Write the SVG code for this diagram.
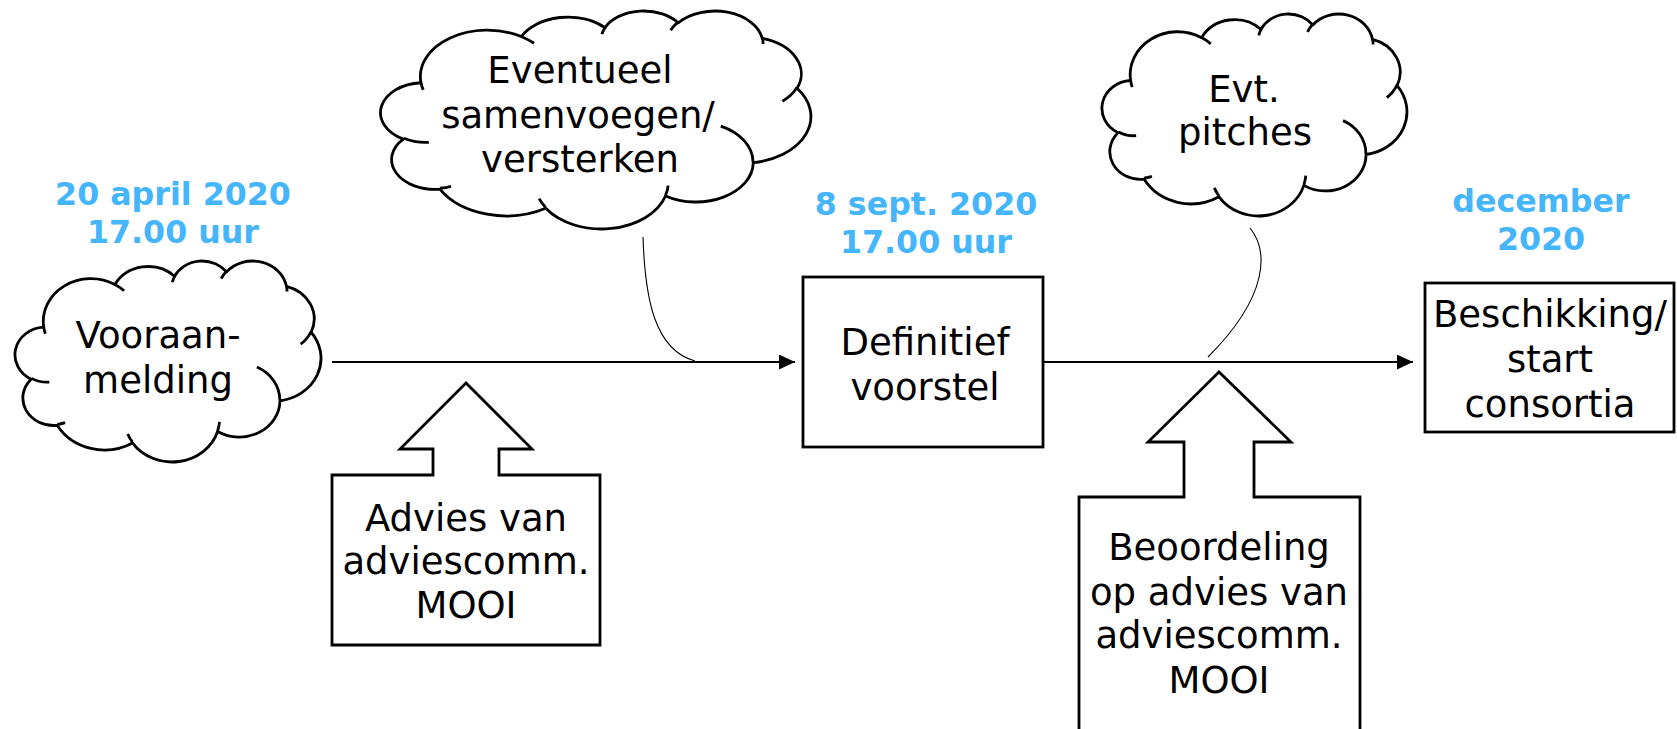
<svg xmlns="http://www.w3.org/2000/svg" xmlns:xlink="http://www.w3.org/1999/xlink" width="1677" height="729" viewBox="0 0 1677 729">
<style>
.cloud{fill:#fff;stroke:#000;stroke-width:2.8;vector-effect:non-scaling-stroke;stroke-linejoin:round}
.cloudin{fill:none;stroke:#000;stroke-width:2.8;vector-effect:non-scaling-stroke}
.box{fill:#fff;stroke:#000;stroke-width:2.8}
.lbl{font-family:"DejaVu Sans","Verdana",sans-serif;font-size:37px;fill:#000;text-anchor:middle}
.date{font-family:"DejaVu Sans","Verdana",sans-serif;font-size:31.7px;font-weight:bold;fill:#45b5fe;text-anchor:middle}
.flow{fill:none;stroke:#000;stroke-width:1.8}
.thin{fill:none;stroke:#000;stroke-width:1.1}
</style>
<defs>
<path id="cloudOut" class="cloud" d="M90.28,332.64 A156.32,212.73 0 0 1 324.18,120.42 A123.45,168.22 0 0 1 519.83,79.49 A101.04,137.62 0 0 1 690.62,57.47 A112.43,152.66 0 0 1 887.04,129.12 A123.45,168.36 0 0 1 968.07,357.92 A156.83,213.43 0 0 1 865.88,699.16 A133.91,182.11 0 0 1 661.04,852.17 A156.30,213.31 0 0 1 381.53,908.91 A178.70,244.05 0 0 1 134.41,821.04 A100.93,136.99 0 0 1 48.97,591.36 A100.58,137.62 0 0 1 90.28,332.64 Z"/>
<path id="cloudIn" class="cloudin" d="M108.63,605.95 A100.58,137.62 0 0 1 50.01,587.51 M160.37,807.85 A100.93,136.99 0 0 1 134.71,816.68 M381.44,904.86 A156.30,213.31 0 0 1 365.97,864.56 M667.29,804.42 A156.30,213.31 0 0 1 661.12,848.63 M790.02,531.34 A133.91,182.11 0 0 1 865.29,696.52 M967.55,355.42 A123.45,168.36 0 0 1 934.02,417.36 M887.13,125.60 A112.43,152.66 0 0 1 888.90,154.85 M673.10,91.48 A112.43,152.66 0 0 1 690.27,54.16 M512.52,109.26 A101.04,137.62 0 0 1 520.83,77.10 M324.07,120.19 A156.32,212.73 0 0 1 354.22,151.46 M95.53,365.49 A156.32,212.73 0 0 1 90.28,332.63"/>
<marker id="arrow" markerUnits="userSpaceOnUse" markerWidth="17" markerHeight="16" refX="16" refY="7.5" orient="auto">
<path d="M0,0 L16,7.5 L0,15 Z" fill="#000"/>
</marker>
</defs>

<g id="connectors">
<path class="flow" d="M332,362 H795" marker-end="url(#arrow)"/>
<path class="flow" d="M1043,362 H1413" marker-end="url(#arrow)"/>
<path class="thin" d="M643,237 C645,300 655,350 695,361"/>
<path class="thin" d="M1250,228 C1268,250 1270,295 1208,357"/>
</g>

<g id="date-april">
<text class="date"><tspan x="173" y="205">20 april 2020</tspan><tspan x="173" y="243">17.00 uur</tspan></text>
</g>
<g id="date-sept">
<text class="date"><tspan x="926" y="215">8 sept. 2020</tspan><tspan x="926" y="253">17.00 uur</tspan></text>
</g>
<g id="date-dec">
<text class="date"><tspan x="1541" y="212">december</tspan><tspan x="1541" y="250">2020</tspan></text>
</g>

<g id="node-vooraanmelding">
<g transform="translate(16.24,260.34) scale(0.3046,0.2009)">
<use xlink:href="#cloudOut"/><use xlink:href="#cloudIn"/>
</g>
<text class="lbl"><tspan x="158" y="348">Vooraan-</tspan><tspan x="158" y="393">melding</tspan></text>
</g>

<g id="node-samenvoegen">
<g transform="translate(382.3,10.28) scale(0.4284,0.2179)">
<use xlink:href="#cloudOut"/><use xlink:href="#cloudIn"/>
</g>
<text class="lbl"><tspan x="580" y="83">Eventueel</tspan><tspan x="578" y="128">samenvoegen/</tspan><tspan x="580" y="172">versterken</tspan></text>
</g>

<g id="node-pitches">
<g transform="translate(1103.2,13.33) scale(0.3036,0.2019)">
<use xlink:href="#cloudOut"/><use xlink:href="#cloudIn"/>
</g>
<text class="lbl"><tspan x="1244" y="102">Evt.</tspan><tspan x="1245" y="145">pitches</tspan></text>
</g>

<g id="node-definitief">
<rect class="box" x="803" y="277" width="240" height="170"/>
<text class="lbl"><tspan x="925" y="355">Definitief</tspan><tspan x="925" y="400">voorstel</tspan></text>
</g>

<g id="node-beschikking">
<rect class="box" x="1425" y="283" width="249" height="149"/>
<text class="lbl"><tspan x="1550" y="327">Beschikking/</tspan><tspan x="1550" y="372">start</tspan><tspan x="1550" y="417">consortia</tspan></text>
</g>

<g id="node-advies">
<path class="box" d="M332,475 H433 V449 H400 L466,383 L532,449 H499 V475 H600 V645 H332 Z"/>
<text class="lbl"><tspan x="466" y="531">Advies van</tspan><tspan x="466" y="574">adviescomm.</tspan><tspan x="466" y="618">MOOI</tspan></text>
</g>

<g id="node-beoordeling">
<path class="box" d="M1079,497 H1184 V442 H1148 L1219,372 L1291,442 H1254 V497 H1360 V745 H1079 Z"/>
<text class="lbl"><tspan x="1219" y="560">Beoordeling</tspan><tspan x="1219" y="605">op advies van</tspan><tspan x="1219" y="648">adviescomm.</tspan><tspan x="1219" y="693">MOOI</tspan></text>
</g>
</svg>
